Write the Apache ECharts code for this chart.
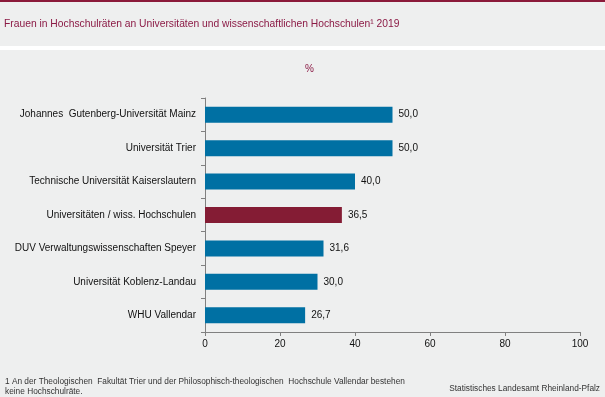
<!DOCTYPE html>
<html>
<head>
<meta charset="utf-8">
<script src="https://cdn.jsdelivr.net/npm/echarts@6/dist/echarts.min.js"></script>
<style>
  html, body { margin: 0; padding: 0; background: #eeefef; }
  #main { width: 605px; height: 397px; }
</style>
</head>
<body>
<div id="main"></div>
<script>
// Hochschulen (von oben nach unten)
var categories = [
  'Johannes  Gutenberg-Universität Mainz',
  'Universität Trier',
  'Technische Universität Kaiserslautern',
  'Universitäten / wiss. Hochschulen',
  'DUV Verwaltungswissenschaften Speyer',
  'Universität Koblenz-Landau',
  'WHU Vallendar'
];
var values = [50.0, 50.0, 40.0, 36.5, 31.6, 30.0, 26.7];
var highlight = 'Universitäten / wiss. Hochschulen';
var xTicks = [0, 20, 40, 60, 80, 100];

var BLUE = '#0070a3';
var RED = '#841c34';
var MAROON = '#8b1a45';
var FONT = 'Liberation Sans, Arial, sans-serif';

var myChart = echarts.init(document.getElementById('main'));

var option = {
  backgroundColor: '#eeefef',
  animation: false,
  textStyle: { fontFamily: FONT },
  title: [
    {
      text: 'Frauen in Hochschulräten an Universitäten und wissenschaftlichen Hochschulen¹ 2019',
      left: -1, top: 14,
      textStyle: { color: MAROON, fontSize: 10.3, fontWeight: 'normal', fontFamily: FONT }
    },
    {
      text: '%',
      left: 300, top: 59,
      textStyle: { color: MAROON, fontSize: 10, fontWeight: 'normal', fontFamily: FONT }
    }
  ],
  graphic: [
    { type: 'rect', left: 0, top: 0, shape: { width: 605, height: 2 }, style: { fill: '#8b1a3a' } },
    { type: 'rect', left: 0, top: 46, shape: { width: 605, height: 4 }, style: { fill: '#ffffff' } },
    {
      type: 'text', left: 5, top: 377,
      style: {
        text: '1 An der Theologischen  Fakultät Trier und der Philosophisch-theologischen  Hochschule Vallendar bestehen\nkeine Hochschulräte.',
        fill: '#333', font: '8.3px ' + FONT, lineHeight: 10
      }
    },
    {
      type: 'text', right: 5, top: 385,
      style: { text: 'Statistisches Landesamt Rheinland-Pfalz', fill: '#333', font: '8.3px ' + FONT }
    }
  ],
  grid: { left: 205, right: 25, top: 98, bottom: 65, containLabel: false },
  xAxis: {
    type: 'value',
    min: xTicks[0], max: xTicks[xTicks.length - 1], interval: 20,
    axisLine: { show: true, lineStyle: { color: '#808080' } },
    axisTick: { show: true, length: 4, lineStyle: { color: '#808080' } },
    splitLine: { show: false },
    axisLabel: { color: '#111', fontSize: 10, margin: 7 }
  },
  yAxis: {
    type: 'category',
    data: categories,
    inverse: true,
    axisLine: { show: true, lineStyle: { color: '#808080' } },
    axisTick: { show: true, length: 4, lineStyle: { color: '#808080' } },
    axisLabel: { color: '#111', fontSize: 10, margin: 9 }
  },
  series: [{
    type: 'bar',
    barWidth: 16,
    data: values.map(function (v, i) {
      return {
        value: v,
        itemStyle: { color: categories[i] === highlight ? RED : BLUE }
      };
    }),
    label: {
      show: true,
      position: 'right',
      distance: 6,
      color: '#111',
      fontSize: 10,
      formatter: function (p) { return p.value.toFixed(1).replace('.', ','); }
    }
  }]
};

myChart.setOption(option);
</script>
</body>
</html>
